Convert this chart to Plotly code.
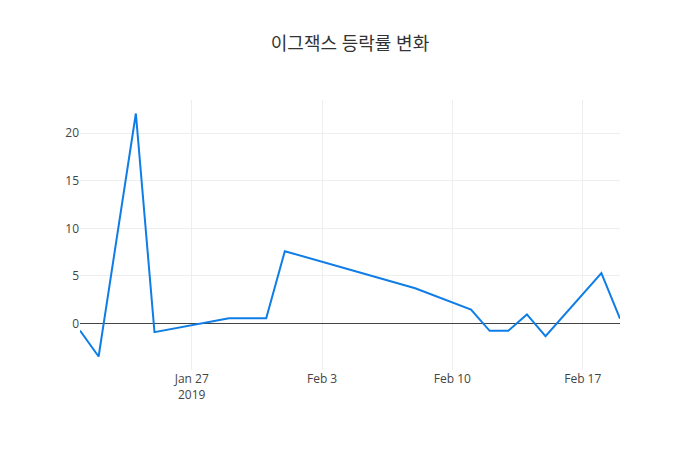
import plotly.graph_objects as go

dates = ["2019-01-21", "2019-01-22", "2019-01-24", "2019-01-25", "2019-01-29",
         "2019-01-31", "2019-02-01", "2019-02-08", "2019-02-11", "2019-02-12",
         "2019-02-13", "2019-02-14", "2019-02-15", "2019-02-18", "2019-02-19"]
rates = [-0.74, -3.47, 22.07, -0.91, 0.56,
         0.56, 7.6, 3.7, 1.47, -0.77,
         -0.77, 0.95, -1.34, 5.3, 0.5]

fig = go.Figure()
fig.add_trace(go.Scatter(x=dates, y=rates, mode="lines",
                         line=dict(color="#0f7de6", width=2)))

fig.update_layout(
    template="plotly_white",
    width=700, height=450,
    title=dict(text="이그잭스 등락률 변화", x=0.5, xanchor="center",
               font=dict(size=18, color="#333")),
    font=dict(family="Open Sans, Noto Sans CJK KR, sans-serif", color="#444"),
    margin=dict(l=80, r=80, t=100, b=80),
    showlegend=False,
)
fig.update_xaxes(showgrid=True, gridcolor="#eee", zeroline=False)
fig.update_yaxes(showgrid=True, gridcolor="#eee", zeroline=True,
                 zerolinecolor="#444", zerolinewidth=1)

fig.write_html("out.html")
